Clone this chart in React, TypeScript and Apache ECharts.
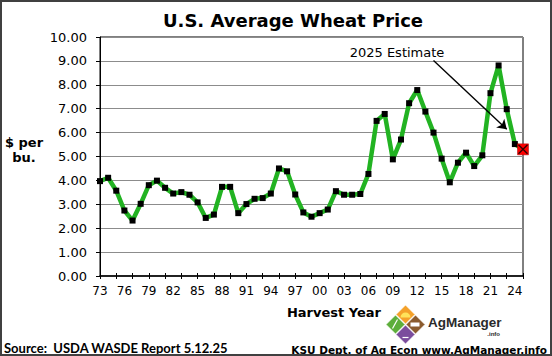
import React, { useEffect, useRef } from 'react';
import * as echarts from 'echarts';

const years = [
  '1973', '1974', '1975', '1976', '1977', '1978', '1979', '1980', '1981', '1982',
  '1983', '1984', '1985', '1986', '1987', '1988', '1989', '1990', '1991', '1992',
  '1993', '1994', '1995', '1996', '1997', '1998', '1999', '2000', '2001', '2002',
  '2003', '2004', '2005', '2006', '2007', '2008', '2009', '2010', '2011', '2012',
  '2013', '2014', '2015', '2016', '2017', '2018', '2019', '2020', '2021', '2022',
  '2023', '2024', '2025',
];

const prices = [
  3.97, 4.11, 3.57, 2.74, 2.32, 3.02, 3.8, 3.99, 3.69, 3.45,
  3.51, 3.4, 3.08, 2.43, 2.57, 3.73, 3.73, 2.63, 3.01, 3.23,
  3.26, 3.45, 4.5, 4.38, 3.41, 2.66, 2.48, 2.63, 2.78, 3.55,
  3.4, 3.4, 3.43, 4.27, 6.49, 6.78, 4.88, 5.71, 7.23, 7.78,
  6.88, 6.0, 4.91, 3.92, 4.74, 5.16, 4.6, 5.05, 7.65, 8.81,
  6.98, 5.52, 5.3,
];

const estimateYear = '2025';
const estimateValue = 5.3;
const arrowStart = { year: '2014', value: 9.02 };
const arrowEnd = { year: '2023', value: 6.14 };

const titleText = 'U.S. Average Wheat Price';
const yAxisTitle = '$ per\nbu.';
const xAxisTitle = 'Harvest Year';
const annotationText = '2025 Estimate';
const sourceText = 'Source:  USDA WASDE Report 5.12.25';
const creditText = 'KSU Dept. of Ag Econ www.AgManager.info';

const FONT = 'DejaVu Sans, Verdana, sans-serif';

export default function App() {
  const ref = useRef<HTMLDivElement>(null);

  useEffect(() => {
    if (!ref.current) return;
    const chart = echarts.init(ref.current, null, { renderer: 'svg' });

    const lineData = prices.map((v, i) =>
      i === prices.length - 1
        ? {
            value: v,
            symbol: 'rect',
            symbolSize: 11,
            itemStyle: { color: '#FF0000', borderColor: '#B00000', borderWidth: 0.5 },
          }
        : v
    );

    const lc = { x: 405.5, y: 324.5 };
    const h = 9.6;
    const d = 10;
    const diamond = (cx: number, cy: number, color: string) => ({
      type: 'polygon',
      shape: {
        points: [
          [cx, cy - h],
          [cx + h, cy],
          [cx, cy + h],
          [cx - h, cy],
        ],
      },
      style: { fill: color, stroke: '#fff', lineWidth: 1 },
    });

    chart.setOption({
      animation: false,
      backgroundColor: '#fff',
      textStyle: { fontFamily: FONT },
      grid: {
        left: 100,
        right: 29,
        top: 37,
        bottom: 80,
        show: true,
        borderColor: '#000',
        borderWidth: 1,
        backgroundColor: 'transparent',
      },
      title: {
        text: titleText,
        left: 288,
        textAlign: 'center',
        top: 6,
        textStyle: { fontFamily: FONT, fontSize: 18, fontWeight: 'bold', color: '#000' },
      },
      xAxis: [
        {
          type: 'category',
          data: years,
          boundaryGap: false,
          axisLine: { lineStyle: { color: '#000', width: 1.5 } },
          axisTick: { show: true, interval: 1, length: 3, lineStyle: { color: '#000' } },
          axisLabel: {
            interval: 2,
            hideOverlap: false,
            formatter: (v: string) => v.slice(2),
            fontSize: 12,
            color: '#000',
            margin: 9,
            fontFamily: FONT,
          },
          splitLine: { show: false },
        },
        {
          type: 'category',
          data: years,
          boundaryGap: false,
          position: 'bottom',
          axisLine: { show: false },
          axisTick: { show: true, inside: true, interval: 1, length: 3, lineStyle: { color: '#000' } },
          axisLabel: { show: false },
          splitLine: { show: false },
        },
      ],
      yAxis: {
        type: 'value',
        min: 0,
        max: 10,
        interval: 1,
        axisLine: { show: true, lineStyle: { color: '#000' } },
        axisTick: { show: true, length: 4, lineStyle: { color: '#000' } },
        axisLabel: {
          formatter: (v: number) => v.toFixed(2),
          fontSize: 13,
          color: '#000',
          margin: 13,
          fontFamily: FONT,
        },
        splitLine: { lineStyle: { color: '#8c8c8c', width: 1 } },
      },
      series: [
        {
          type: 'line',
          data: lineData,
          clip: false,
          showAllSymbol: true,
          symbol: 'rect',
          symbolSize: 6,
          itemStyle: { color: '#000' },
          lineStyle: { color: '#22B322', width: 4.5 },
          z: 3,
          markLine: {
            silent: true,
            symbol: ['none', 'arrow'],
            symbolSize: 9,
            lineStyle: { color: '#000', width: 1.4, type: 'solid' },
            label: { show: false },
            data: [
              [
                { coord: [arrowStart.year, arrowStart.value] },
                { coord: [arrowEnd.year, arrowEnd.value] },
              ],
            ],
          },
        },
        {
          type: 'scatter',
          data: [[estimateYear, estimateValue]],
          clip: false,
          symbol: 'path://M0,0L10,10M10,0L0,10',
          symbolSize: 9,
          itemStyle: { color: 'transparent', borderColor: '#000', borderWidth: 1.4 },
          z: 5,
        },
      ],
      graphic: [
        {
          type: 'rect',
          shape: { x: 1, y: 1, width: 550, height: 354 },
          style: { fill: 'none', stroke: '#404040', lineWidth: 2 },
          z: 10,
        },
        {
          type: 'text',
          x: 24,
          y: 150,
          style: {
            text: yAxisTitle,
            fontFamily: FONT,
            fontSize: 13,
            fontWeight: 'bold',
            fill: '#000',
            align: 'center',
            verticalAlign: 'middle',
            lineHeight: 15,
          },
        },
        {
          type: 'text',
          x: 334,
          y: 312,
          style: {
            text: xAxisTitle,
            fontFamily: FONT,
            fontSize: 13,
            fontWeight: 'bold',
            fill: '#000',
            align: 'center',
            verticalAlign: 'middle',
          },
        },
        {
          type: 'text',
          x: 397,
          y: 52,
          style: {
            text: annotationText,
            fontFamily: FONT,
            fontSize: 13,
            fill: '#000',
            align: 'center',
            verticalAlign: 'middle',
          },
        },
        {
          type: 'text',
          x: 4,
          y: 348,
          style: {
            text: sourceText,
            fontFamily: 'Lato, Liberation Sans, sans-serif',
            fontSize: 13,
            fontWeight: 'bold',
            fill: '#000',
            align: 'left',
            verticalAlign: 'middle',
          },
        },
        {
          type: 'text',
          x: 547,
          y: 350,
          style: {
            text: creditText,
            fontFamily: FONT,
            fontSize: 10.5,
            fontWeight: 'bold',
            fill: '#000',
            align: 'right',
            verticalAlign: 'middle',
          },
        },
        diamond(lc.x, lc.y - d, '#F4A12A'),
        diamond(lc.x - d, lc.y, '#5DAE3B'),
        diamond(lc.x + d, lc.y, '#8B5B2E'),
        diamond(lc.x, lc.y + d, '#7B4D9D'),
        {
          type: 'sector',
          shape: { cx: lc.x, cy: lc.y - d + 3, r: 5, r0: 0, startAngle: Math.PI, endAngle: Math.PI * 2 },
          style: { fill: '#FFE35A' },
        },
        {
          type: 'rect',
          shape: { x: lc.x + d - 5, y: lc.y - 2, width: 9, height: 4 },
          style: { fill: '#fff' },
        },
        {
          type: 'line',
          shape: { x1: lc.x - d - 3, y1: lc.y + 4, x2: lc.x - d + 2, y2: lc.y - 5 },
          style: { stroke: '#fff', lineWidth: 1.2 },
        },
        {
          type: 'line',
          shape: { x1: lc.x - 3, y1: lc.y + d + 3, x2: lc.x + 3, y2: lc.y + d + 3 },
          style: { stroke: '#fff', lineWidth: 1.2 },
        },
        {
          type: 'text',
          x: 428,
          y: 322,
          style: {
            text: 'AgManager',
            fontFamily: 'Liberation Sans, Arial, sans-serif',
            fontSize: 13.5,
            fontWeight: 'bold',
            fill: '#2a2a2a',
            align: 'left',
            verticalAlign: 'middle',
          },
        },
        {
          type: 'text',
          x: 500,
          y: 334,
          style: {
            text: '.info',
            fontFamily: 'Liberation Sans, Arial, sans-serif',
            fontSize: 6,
            fontWeight: 'bold',
            fill: '#2a2a2a',
            align: 'right',
            verticalAlign: 'middle',
          },
        },
      ],
    });

    return () => chart.dispose();
  }, []);

  return (
    <div
      ref={ref}
      style={{ position: 'fixed', left: 0, top: 0, width: 552, height: 356, background: '#fff' }}
    />
  );
}
